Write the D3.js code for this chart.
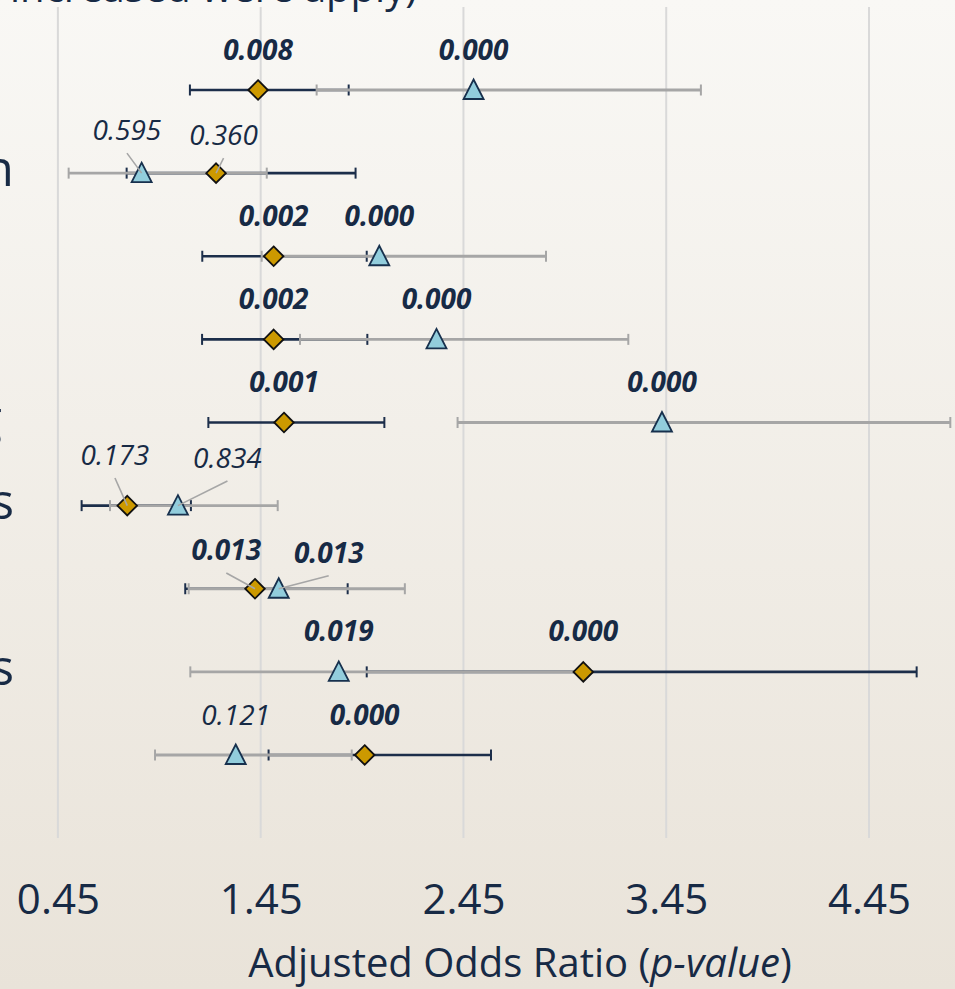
<!DOCTYPE html>
<html>
<head>
<meta charset="utf-8">
<script src="https://cdn.jsdelivr.net/npm/d3@7"></script>
<style>
  html, body { margin: 0; padding: 0; overflow: hidden; }
  svg { display: block; }
</style>
</head>
<body>
<svg id="chart" width="955" height="989"></svg>
<script>
// ---------------- DATA ----------------
const categories = [
  "Age 18 to 34 years, urban",
  "Tertiary education",
  "Lives in metro",
  "Commutes by auto",
  "Regular weekend shopping",
  "Has chronic conditions",
  "Lives with partner in a condo",
  "Receives welfare benefits",
  "Has a home studio"
];
// Series A (gold diamonds, dark CI)
const aorA  = [1.437, 1.230, 1.514, 1.514, 1.565, 0.792, 1.422, 3.041, 1.963];
const lowA  = [1.101, 0.789, 1.162, 1.161, 1.192, 0.567, 1.078, 1.973, 1.489];
const highA = [1.884, 1.918, 1.973, 1.976, 2.060, 1.106, 1.879, 4.685, 2.586];
const pA    = ["0.008", "0.360", "0.002", "0.002", "0.001", "0.173", "0.013", "0.000", "0.000"];
// Series B (blue triangles, grey CI)
const aorB  = [2.500, 0.863, 2.035, 2.317, 3.429, 1.042, 1.539, 1.835, 1.327];
const lowB  = [1.726, 0.503, 1.455, 1.644, 2.421, 0.707, 1.095, 1.103, 0.929];
const highB = [3.621, 1.480, 2.857, 3.263, 4.851, 1.534, 2.161, 3.030, 1.899];
const pB    = ["0.000", "0.595", "0.000", "0.000", "0.000", "0.834", "0.013", "0.019", "0.121"];
const xTicks = [0.45, 1.45, 2.45, 3.45, 4.45];
const titleText = "(Multiple responses increased were apply)";
const axisTitleMain = "Adjusted Odds Ratio (";
const axisTitleItalic = "p-value";
const axisTitleEnd = ")";

// ---------------- LAYOUT / STYLE ----------------
const W = 955, H = 989;
const textColor = "#172a45";
const darkCI = "#1c2e4a";
const greyCI = "#a6a6a6";
const gold = "#cc9900";
const blue = "#92cddc";
// label nudges (offsets from marker, px) for labels with leader lines
const nudgesA = {1: [7.5, -28], 5: [-12.3, -40.6], 6: [-28.7, -28.7]};
const nudgesB = {1: [-14.7, -33], 5: [49.5, -37.6], 6: [50, -26]};
// category label right-edge anchors (labels are clipped by the left border)
const catAnchor = [-6, 14, 2, 2, 2, 14, 2, 14, 2];

const svg = d3.select("#chart");
const defs = svg.append("defs");
const grad = defs.append("linearGradient").attr("id", "bg")
  .attr("x1", 0).attr("y1", 0).attr("x2", 0).attr("y2", 1);
grad.append("stop").attr("offset", "0%").attr("stop-color", "#f9f8f5");
grad.append("stop").attr("offset", "100%").attr("stop-color", "#e9e3d9");
svg.append("rect").attr("width", W).attr("height", H).attr("fill", "url(#bg)");

const x = d3.scaleLinear().domain([0.45, 4.45]).range([57.9, 869]);
const y = d3.scalePoint().domain(categories).range([90, 755]);

// gridlines
svg.append("g").selectAll("line").data(xTicks).join("line")
  .attr("x1", d => x(d)).attr("x2", d => x(d))
  .attr("y1", 7).attr("y2", 838)
  .attr("stroke", "#d9d9d9").attr("stroke-width", 2);

// x axis labels
const xAxis = d3.axisBottom(x).tickValues(xTicks).tickFormat(d3.format(".2f")).tickSize(0).tickPadding(0);
const gx = svg.append("g").attr("transform", "translate(0,880)").call(xAxis);
gx.select(".domain").remove();
gx.selectAll("text")
  .attr("fill", textColor)
  .attr("font-family", "'Open Sans', sans-serif")
  .attr("font-size", 42)
  .attr("dy", "0.8em");

// axis title
const at = svg.append("text")
  .attr("x", 520).attr("y", 977)
  .attr("text-anchor", "middle")
  .attr("fill", textColor)
  .attr("font-family", "'Open Sans', sans-serif")
  .attr("font-size", 40);
at.append("tspan").text(axisTitleMain);
at.append("tspan").attr("font-style", "italic").text(axisTitleItalic);
at.append("tspan").text(axisTitleEnd);

// top title (cut off by the frame)
svg.append("text")
  .attr("x", 417).attr("y", 2)
  .attr("text-anchor", "end")
  .attr("fill", textColor)
  .attr("font-family", "'Open Sans', sans-serif")
  .attr("font-size", 40)
  .text(titleText);

// category labels (clipped at the left edge)
svg.append("g").selectAll("text").data(categories).join("text")
  .attr("x", (d, i) => catAnchor[i])
  .attr("y", d => y(d) + 13)
  .attr("text-anchor", "end")
  .attr("fill", textColor)
  .attr("font-family", "'Open Sans', sans-serif")
  .attr("font-size", 50)
  .text(d => d);

// error bar helper
function errorBars(lo, hi, color, width) {
  const g = svg.append("g");
  categories.forEach((c, i) => {
    const yy = y(c);
    g.append("line").attr("x1", x(lo[i])).attr("x2", x(hi[i]))
      .attr("y1", yy).attr("y2", yy)
      .attr("stroke", color).attr("stroke-width", width);
    [lo[i], hi[i]].forEach(v => {
      g.append("line").attr("x1", x(v)).attr("x2", x(v))
        .attr("y1", yy - 5.5).attr("y2", yy + 5.5)
        .attr("stroke", color).attr("stroke-width", 2);
    });
  });
}
errorBars(lowA, highA, darkCI, 2.6);
errorBars(lowB, highB, greyCI, 2.8);

// markers
const diamond = "M0,-9.8L9.8,0L0,9.8L-9.8,0Z";
const triangle = "M0,-10.5L10,9L-10,9Z";
svg.append("g").selectAll("path").data(categories).join("path")
  .attr("d", diamond)
  .attr("transform", (c, i) => `translate(${x(aorA[i])},${y(c)})`)
  .attr("fill", gold).attr("stroke", "#111111").attr("stroke-width", 1.8);
svg.append("g").selectAll("path").data(categories).join("path")
  .attr("d", triangle)
  .attr("transform", (c, i) => `translate(${x(aorB[i])},${y(c)})`)
  .attr("fill", blue).attr("stroke", "#17304d").attr("stroke-width", 1.8);

// labels with p-values
function pLabels(vals, ps, nudges) {
  const g = svg.append("g");
  categories.forEach((c, i) => {
    const mx = x(vals[i]), my = y(c);
    const nd = nudges[i] || [0, -30.5];
    const lx = mx + nd[0], ly = my + nd[1];
    const sig = parseFloat(ps[i]) < 0.05;
    if (nudges[i]) {
      g.append("line").attr("x1", lx).attr("y1", ly + 13)
        .attr("x2", mx).attr("y2", my)
        .attr("stroke", "#a6a6a6").attr("stroke-width", 1.6);
    }
    g.append("text")
      .attr("x", lx).attr("y", ly)
      .attr("text-anchor", "middle")
      .attr("fill", textColor)
      .attr("font-family", "'Open Sans', sans-serif")
      .attr("font-size", 28)
      .attr("font-style", "italic")
      .attr("font-weight", sig ? 700 : 400)
      .text(ps[i]);
  });
}
pLabels(aorA, pA, nudgesA);
pLabels(aorB, pB, nudgesB);
</script>
</body>
</html>
